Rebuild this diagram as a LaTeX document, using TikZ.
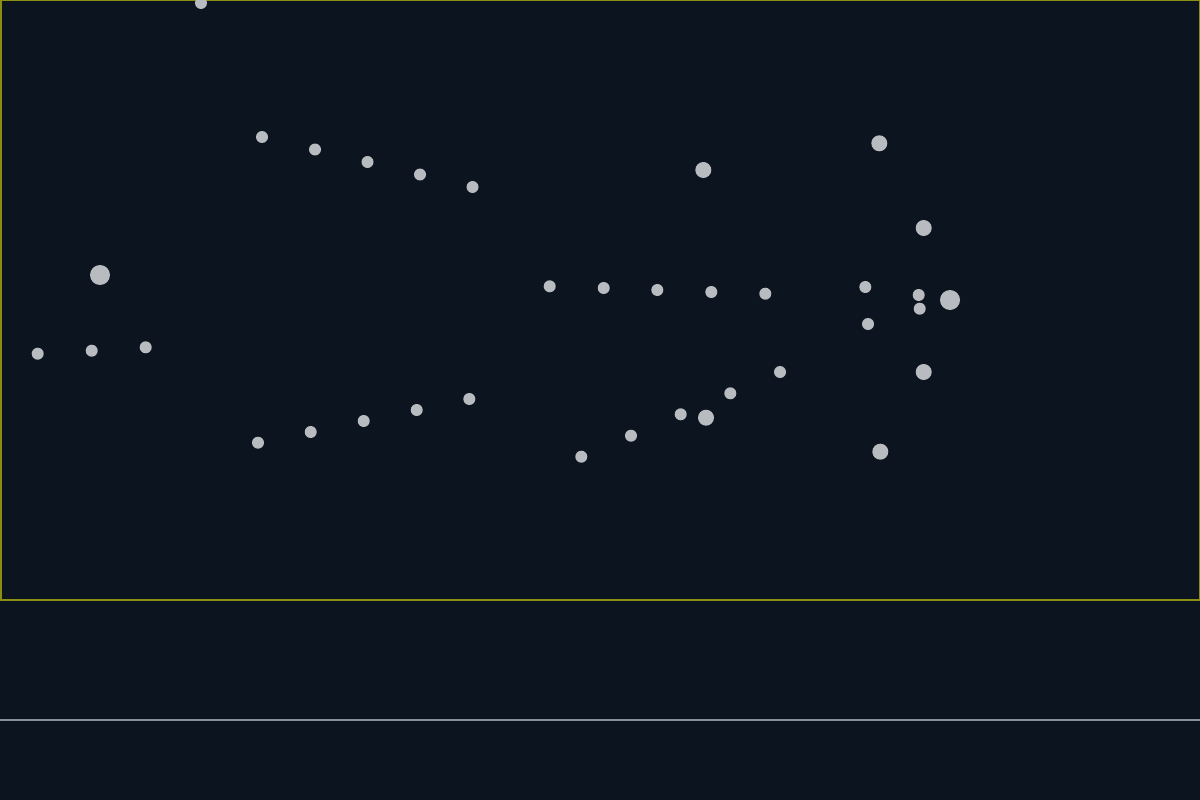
\documentclass[tikz,border=0pt]{standalone}
\definecolor{bgc}{HTML}{0C151F}
\definecolor{dotc}{HTML}{B8BCC0}
\definecolor{framec}{HTML}{8A8F10}
\definecolor{linec}{HTML}{8A9099}
\tikzset{
  sdot/.style={circle,fill=dotc,inner sep=0pt,minimum size=12pt,draw=none},
  mdot/.style={circle,fill=dotc,inner sep=0pt,minimum size=16pt,draw=none},
  ldot/.style={circle,fill=dotc,inner sep=0pt,minimum size=20pt,draw=none}
}
\begin{document}
\begin{tikzpicture}[x=1pt,y=-1pt]
\fill[bgc] (0,0) rectangle (1200,800);
\useasboundingbox (0,0) rectangle (1200,800);
\draw[framec,line width=1.5pt] (0.75,0.75) rectangle (1199.25,600);
\coordinate (hl) at (0,720);
\coordinate (hr) at (1200,720);
\draw[linec,line width=1.5pt] (hl) -- (hr);
% top stray dot
\node[sdot] (t0) at (201,3) {};
% upper row
\node[sdot] (u1) at (262,137) {};
\node[sdot] (u2) at (315,149.5) {};
\node[sdot] (u3) at (367.5,162) {};
\node[sdot] (u4) at (420,174.5) {};
\node[sdot] (u5) at (472.5,187) {};
% left group
\node[ldot] (l0) at (100,275) {};
\node[sdot] (l1) at (37.7,353.7) {};
\node[sdot] (l2) at (91.7,350.7) {};
\node[sdot] (l3) at (145.7,347.3) {};
% lower row
\node[sdot] (d1) at (258,442.7) {};
\node[sdot] (d2) at (310.7,432) {};
\node[sdot] (d3) at (363.7,421) {};
\node[sdot] (d4) at (416.7,410) {};
\node[sdot] (d5) at (469.3,399) {};
% middle row
\node[sdot] (m1) at (549.7,286.3) {};
\node[sdot] (m2) at (603.7,288) {};
\node[sdot] (m3) at (657.3,290) {};
\node[sdot] (m4) at (711.3,292) {};
\node[sdot] (m5) at (765.3,293.7) {};
\node[mdot] (m0) at (703.3,170) {};
% rising row
\node[sdot] (r1) at (581.3,456.7) {};
\node[sdot] (r2) at (631,435.7) {};
\node[sdot] (r3) at (680.7,414.3) {};
\node[mdot] (r0) at (706,417.7) {};
\node[sdot] (r4) at (730.3,393.3) {};
\node[sdot] (r5) at (780,372) {};
% right cluster
\node[mdot] (c1) at (879.3,143.3) {};
\node[mdot] (c2) at (923.7,228) {};
\node[sdot] (c3) at (865.3,287) {};
\node[sdot] (c4) at (918.7,295) {};
\node[sdot] (c5) at (919.7,308.7) {};
\node[ldot] (c6) at (950,300) {};
\node[sdot] (c7) at (868,324) {};
\node[mdot] (c8) at (923.7,372) {};
\node[mdot] (c9) at (880.3,451.7) {};
\end{tikzpicture}
\end{document}
